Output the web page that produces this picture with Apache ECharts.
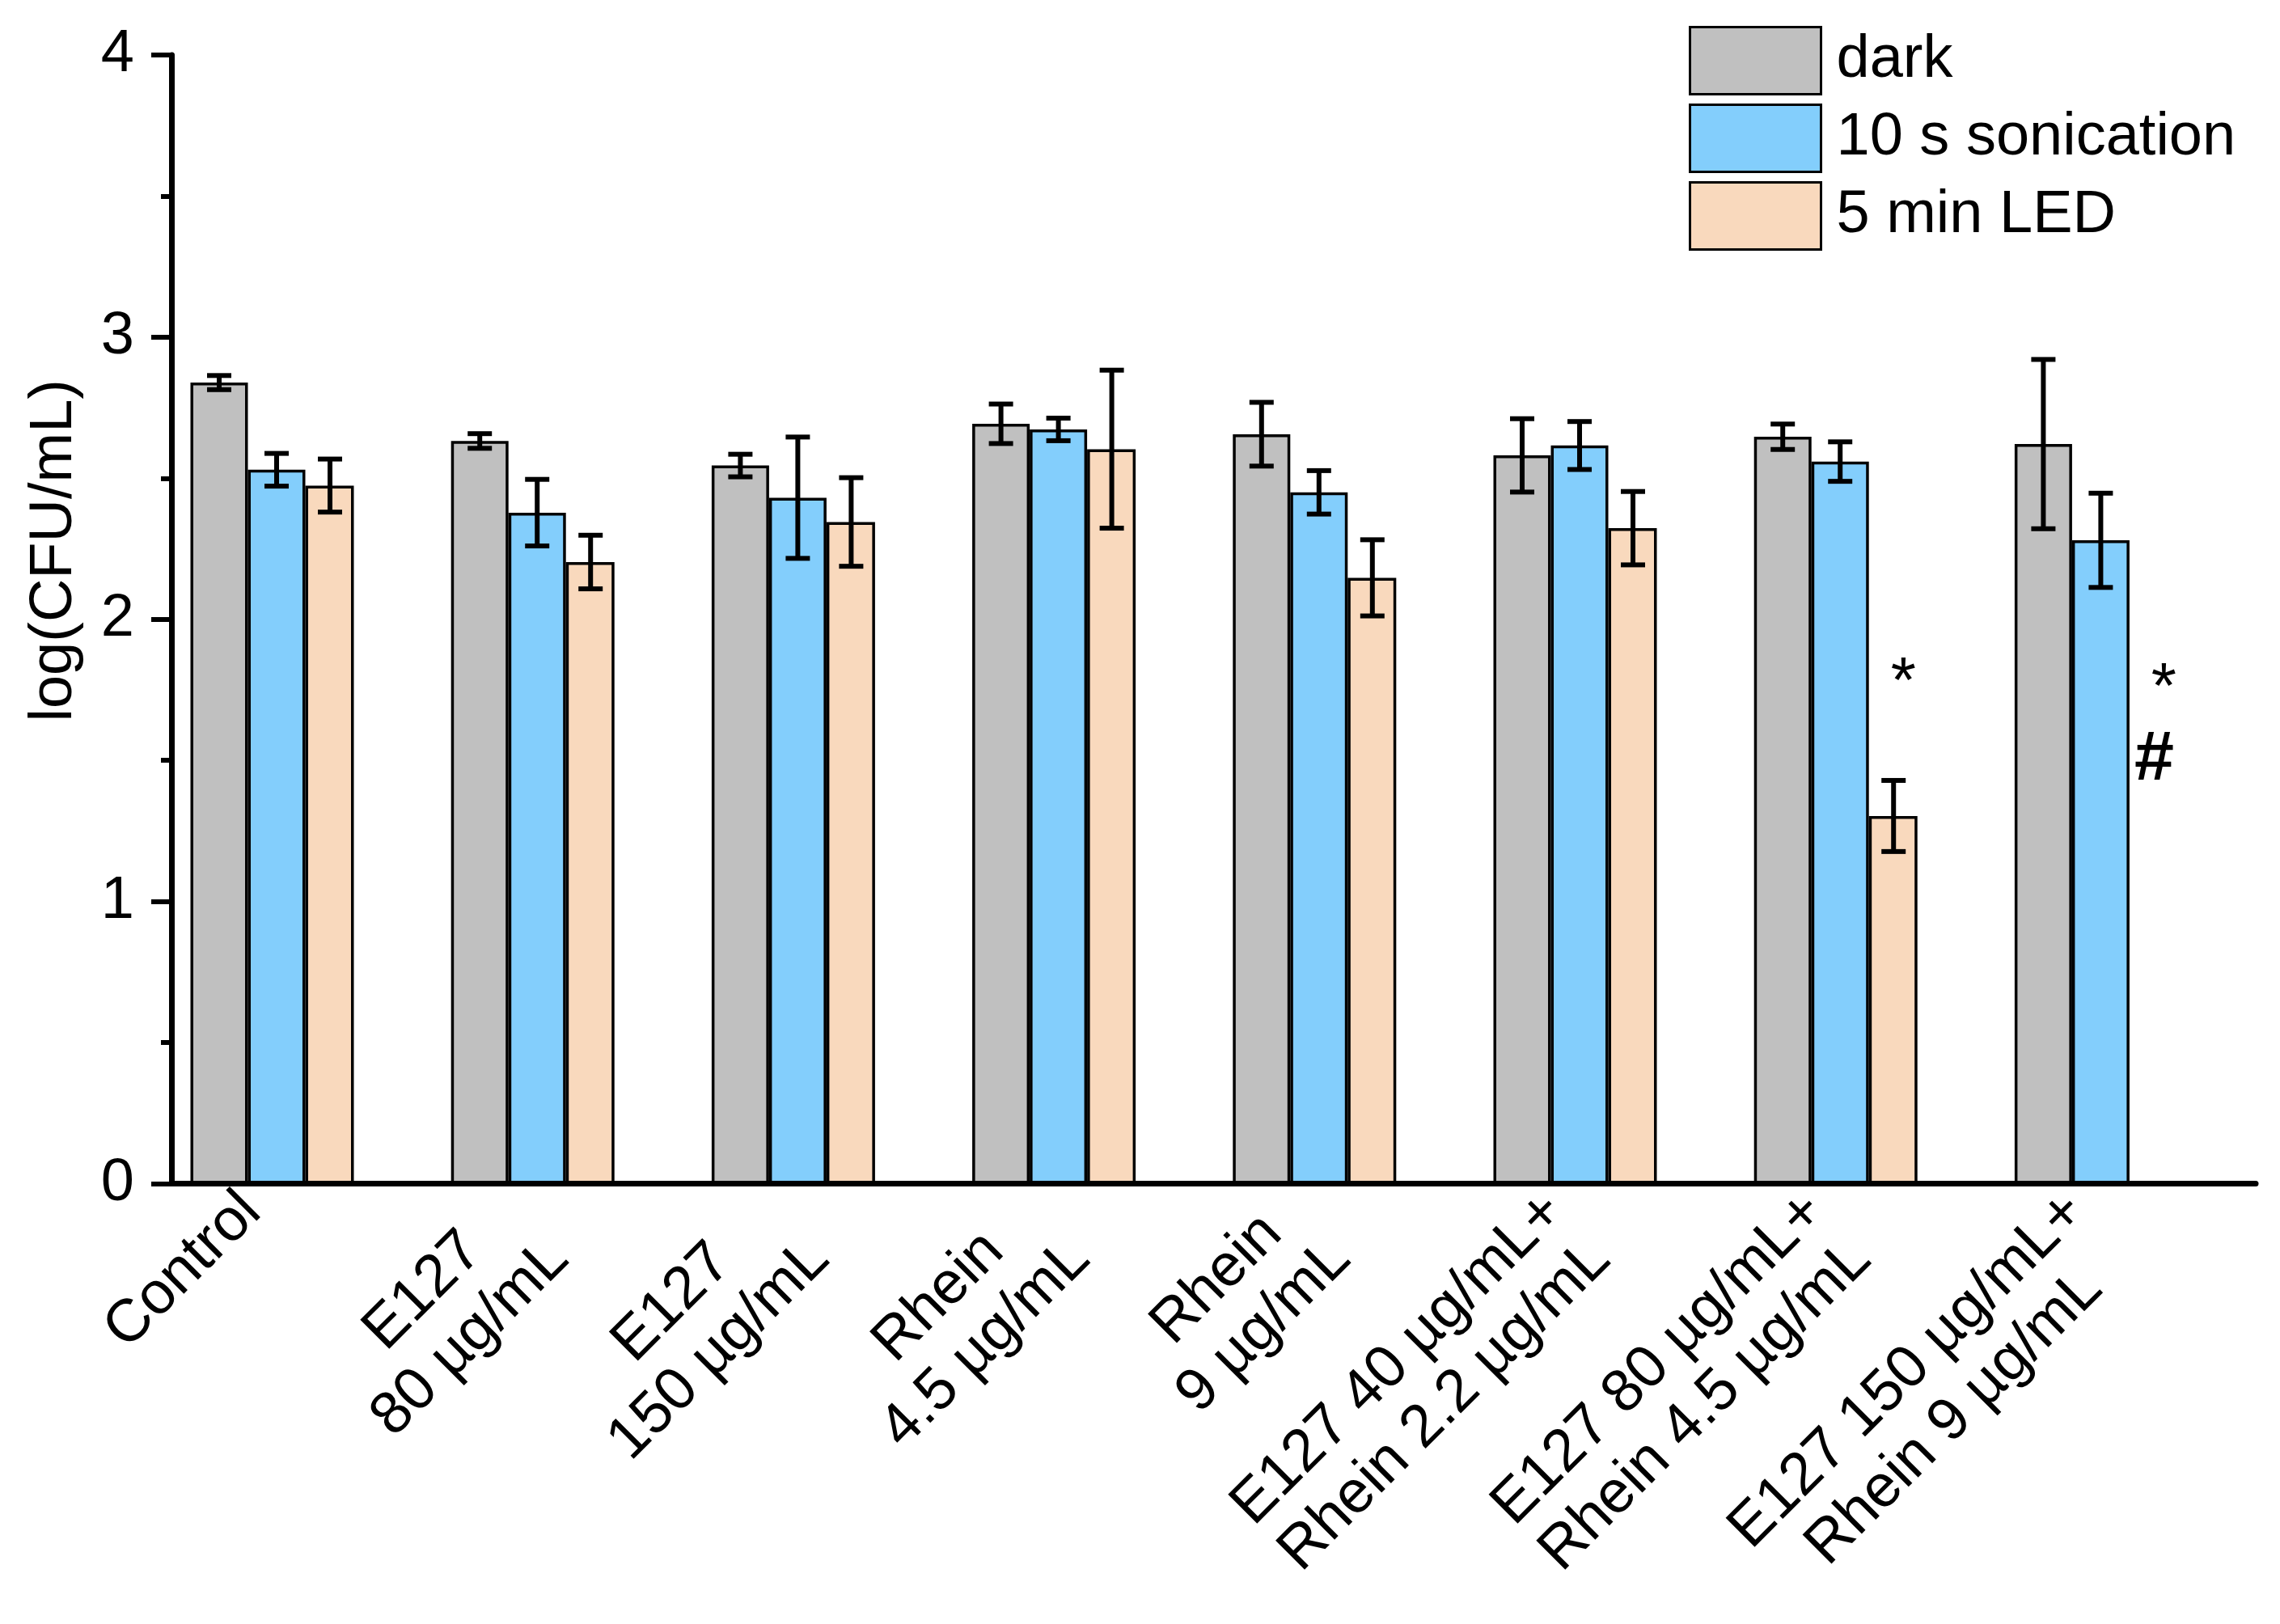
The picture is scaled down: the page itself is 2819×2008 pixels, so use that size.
<!DOCTYPE html>
<html>
<head>
<meta charset="utf-8">
<script src="https://cdn.jsdelivr.net/npm/echarts@6/dist/echarts.min.js"></script>
<style>
html,body{margin:0;padding:0;background:#fff;}
#chart{width:2819px;height:2008px;}
</style>
</head>
<body>
<div id="chart"></div>
<script>
// ---- data ----
var categories = [
  'Control',
  'E127\n80 µg/mL',
  'E127\n150 µg/mL',
  'Rhein\n4.5 µg/mL',
  'Rhein\n9 µg/mL',
  'E127 40 µg/mL+\nRhein 2.2 µg/mL',
  'E127 80 µg/mL+\nRhein 4.5 µg/mL',
  'E127 150 µg/mL+\nRhein 9 µg/mL'
];
var seriesNames = ['dark', '10 s sonication', '5 min LED'];
var darkVals  = [2.839, 2.632, 2.545, 2.693, 2.656, 2.581, 2.647, 2.621];
var darkErr   = [0.025, 0.026, 0.040, 0.070, 0.113, 0.130, 0.045, 0.300];
var sonicVals = [2.530, 2.378, 2.431, 2.673, 2.450, 2.616, 2.559, 2.280];
var sonicErr  = [0.058, 0.118, 0.215, 0.040, 0.077, 0.085, 0.070, 0.167];
var ledVals   = [2.474, 2.203, 2.345, 2.603, 2.147, 2.323, 1.303, null];
var ledErr    = [0.094, 0.095, 0.157, 0.280, 0.135, 0.130, 0.126, null];
var yTicks = [0, 1, 2, 3, 4];
// annotations: [category index, y value, text]
var annotations = [[6, 1.77, '*'], [7, 1.75, '*'], [7, 1.50, '#']];

// ---- styles ----
var FONT = '"Liberation Sans", Arial, sans-serif';
var colors = ['#C0C0C0', '#83CEFC', '#F9D9BD'];
var barWidths = [71, 71, 60];
var barOffsets = [-65.5, 5.5, 71.5]; // centre of each bar relative to group centre (px)

function pairs(vals) {
  var out = [];
  vals.forEach(function (v, i) { if (v !== null) out.push([i, v]); });
  return out;
}
function errData(vals, errs) {
  var out = [];
  vals.forEach(function (v, i) { if (v !== null) out.push([i, v, errs[i]]); });
  return out;
}
function errRender(offset) {
  return function (params, api) {
    var x = api.value(0), y = api.value(1), e = api.value(2);
    var top = api.coord([x, y + e]);
    var bot = api.coord([x, y - e]);
    var cx = top[0] + offset;
    var half = 15;
    var st = { stroke: '#000', lineWidth: 6 };
    return {
      type: 'group',
      children: [
        { type: 'line', shape: { x1: cx, y1: top[1], x2: cx, y2: bot[1] }, style: st },
        { type: 'line', shape: { x1: cx - half, y1: top[1], x2: cx + half, y2: top[1] }, style: st },
        { type: 'line', shape: { x1: cx - half, y1: bot[1], x2: cx + half, y2: bot[1] }, style: st }
      ]
    };
  };
}

var valsList = [darkVals, sonicVals, ledVals];
var errList = [darkErr, sonicErr, ledErr];
var series = [];
for (var s = 0; s < 3; s++) {
  series.push({
    name: seriesNames[s],
    type: 'bar',
    data: pairs(valsList[s]),
    barWidth: barWidths[s],
    barGap: '0%',
    itemStyle: { color: colors[s], borderColor: '#000', borderWidth: 3.5 },
    z: 2
  });
}
for (var s2 = 0; s2 < 3; s2++) {
  series.push({
    type: 'custom',
    data: errData(valsList[s2], errList[s2]),
    renderItem: errRender(barOffsets[s2]),
    z: 5,
    silent: true
  });
}
series.push({
  type: 'custom',
  data: annotations,
  dimensions: ['x', 'y', 't'],
  encode: { x: 0, y: 1 },
  z: 6,
  renderItem: function (params, api) {
    var a = annotations[params.dataIndex];
    var p = api.coord([a[0], a[1]]);
    var isHash = a[2] === '#';
    return {
      type: 'text',
      style: {
        x: p[0] + barOffsets[2] + (isHash ? 0 : 12),
        y: p[1],
        text: a[2],
        fill: '#000',
        font: (isHash ? 'bold 88px ' : '80px ') + FONT,
        align: 'center',
        verticalAlign: 'middle'
      }
    };
  }
});

var chart = echarts.init(document.getElementById('chart'));
chart.setOption({
  animation: false,
  backgroundColor: '#fff',
  textStyle: { fontFamily: FONT, color: '#000' },
  grid: { left: 212, right: 30, top: 68, bottom: 544.5, containLabel: false },
  legend: {
    data: seriesNames,
    orient: 'vertical',
    left: 2083,
    top: 27,
    itemWidth: 162,
    itemHeight: 83,
    itemGap: 10,
    icon: 'rect',
    itemStyle: { borderColor: '#000', borderWidth: 3 },
    textStyle: { fontSize: 74, fontFamily: FONT, color: '#000', padding: [0, 0, 0, 14] }
  },
  xAxis: {
    type: 'value',
    min: -0.3864,
    max: 7.6117,
    splitLine: { show: false },
    axisTick: { show: false },
    axisLine: { show: true, onZero: false, lineStyle: { color: '#000', width: 7 } },
    axisLabel: {
      customValues: categories.map(function (c, i) { return i; }),
      rotate: 45,
      margin: -60,
      align: 'right',
      verticalAlign: 'top',
      padding: [0, 77, 0, 0],
      formatter: function (v) {
        var c = categories[Math.round(v)];
        if (c === undefined) return '';
        return c.split('\n').map(function (l) { return '{c|' + l + '}'; }).join('\n');
      },
      rich: {
        c: { align: 'center', fontSize: 74, fontFamily: FONT, color: '#000', lineHeight: 82 }
      }
    }
  },
  yAxis: {
    type: 'value',
    min: 0,
    max: 4,
    interval: 1,
    name: 'log(CFU/mL)',
    nameLocation: 'middle',
    nameRotate: 90,
    nameGap: 107,
    nameTextStyle: { fontSize: 74, fontFamily: FONT, color: '#000', padding: [0, 0, 0, 170] },
    splitLine: { show: false },
    axisLine: { show: true, onZero: false, lineStyle: { color: '#000', width: 7 } },
    axisTick: { show: true, inside: false, length: 25, lineStyle: { color: '#000', width: 6 } },
    minorTick: { show: true, splitNumber: 2, length: 13, lineStyle: { color: '#000', width: 6 } },
    axisLabel: {
      fontSize: 74, fontFamily: FONT, color: '#000', margin: 46,
      customValues: yTicks,
      formatter: function (v) { return String(v); }
    }
  },
  series: series
});
</script>
</body>
</html>
